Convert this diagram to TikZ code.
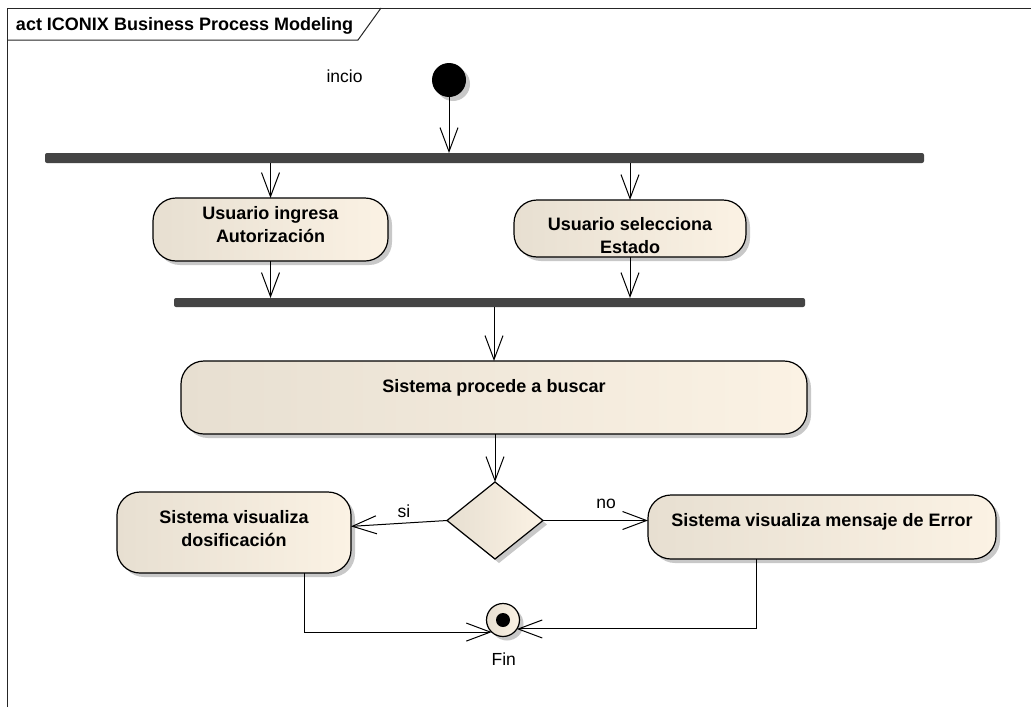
\documentclass[tikz,border=0pt]{standalone}
\usepackage{fontspec}
\setmainfont{Liberation Sans}
\usetikzlibrary{arrows.meta,shapes.geometric,shadows}
\definecolor{bgL}{RGB}{231,223,209}
\definecolor{bgR}{RGB}{251,242,228}
\definecolor{barc}{RGB}{68,68,68}
\definecolor{shd}{RGB}{200,200,200}
\newcommand{\twoline}[2]{\begin{tabular}[b]{@{}c@{}}#1\\#2\end{tabular}}
\begin{document}
\begin{tikzpicture}[x=1pt,y=-1pt,
  every node/.style={outer sep=0pt},
  beige/.style={left color=bgL, middle color=bgR, right color=bgR},
  shad/.style={drop shadow={shadow xshift=4pt,shadow yshift=-4pt,fill=shd,opacity=1}},
  act/.style={draw=black, line width=1.2pt, rounded corners=23pt, beige, shad,
    inner sep=0pt, font=\bfseries\fontsize{18}{23}\selectfont},
  dec/.style={diamond, draw=black, line width=1.2pt, beige, shad, inner sep=0pt,
    aspect=1.25, minimum width=96pt, minimum height=77pt},
  bar/.style={rectangle, fill=barc, rounded corners=2pt, inner sep=0pt},
  arr/.style={-{Straight Barb[length=24pt,width=18pt]}, line width=1pt},
  lbl/.style={anchor=base, font=\fontsize{17.5}{20}\selectfont, inner sep=0pt},
]
\fill[white] (0,0) rectangle (1031,707);
\useasboundingbox (0,0) rectangle (1031,707);

% frame
\draw[line width=1pt, black!85] (7,707) -- (7,8) -- (1031,8);
\draw[line width=1pt, black!85] (7,40) -- (358,40) -- (381,8);
\node[anchor=base west, inner sep=0pt, font=\bfseries\fontsize{18}{20}\selectfont] (title) at (16,30) {act ICONIX Business Process Modeling};

% nodes
\node[circle, fill=black, minimum size=34pt, inner sep=0pt, shad] (init) at (449,80) {};
\node[lbl] (linit) at (344.5,82) {incio};

\node[bar, minimum width=879pt, minimum height=10pt] (bar1) at (484.5,158) {};

\node[act, minimum width=235pt, minimum height=63pt, text height=26.9pt, text depth=0pt] (a1) at (270.5,229.5) {\twoline{Usuario ingresa}{Autorización}};
\node[act, minimum width=232pt, minimum height=57pt, text height=49.9pt, text depth=0pt] (a2) at (630,228.5) {\twoline{Usuario selecciona}{Estado}};

\node[bar, minimum width=631pt, minimum height=9pt] (bar2) at (489.5,302.5) {};

\node[act, minimum width=626pt, minimum height=73pt, text height=12.9pt, text depth=22pt] (a3) at (494,397.5) {Sistema procede a buscar};

\node[dec] (dec) at (495,520.5) {};

\node[act, minimum width=234pt, minimum height=81pt, text height=27.9pt, text depth=0pt] (a4) at (234,532.5) {\twoline{Sistema visualiza}{dosificación}};
\node[act, minimum width=348pt, minimum height=64pt, text height=12.9pt, text depth=13pt] (a5) at (822,527) {Sistema visualiza mensaje de Error};

\node[circle, draw=black, line width=1.2pt, beige, shad, minimum size=33pt, inner sep=0pt,
  path picture={\fill[black] (path picture bounding box.center) circle (7pt);}] (fin) at (503,620) {};
\node[lbl] (lfin) at (503.8,665) {Fin};

\node[lbl] (lsi) at (404,517) {si};
\node[lbl] (lno) at (606,508) {no};

% connectors
\draw[arr] (init.south) -- (init.south |- bar1.north);
\draw[arr] (bar1.south -| a1.north) -- (a1.north);
\draw[arr] (bar1.south -| a2.north) -- (a2.north);
\draw[arr] (a1.south) -- (a1.south |- bar2.north);
\draw[arr] (a2.south) -- (a2.south |- bar2.north);
\draw[arr] (bar2.south -| a3.north) -- (a3.north);
\draw[arr] (a3.south -| dec.north) -- (dec.north);
\draw[arr] (dec.west) -- (a4.3);
\draw[arr] (dec.east) -- (dec.east -| a5.west);
\draw[arr] (a4.-30) |- (fin.227);
\draw[arr] (a5.206) |- (fin.-33);
\end{tikzpicture}
\end{document}
